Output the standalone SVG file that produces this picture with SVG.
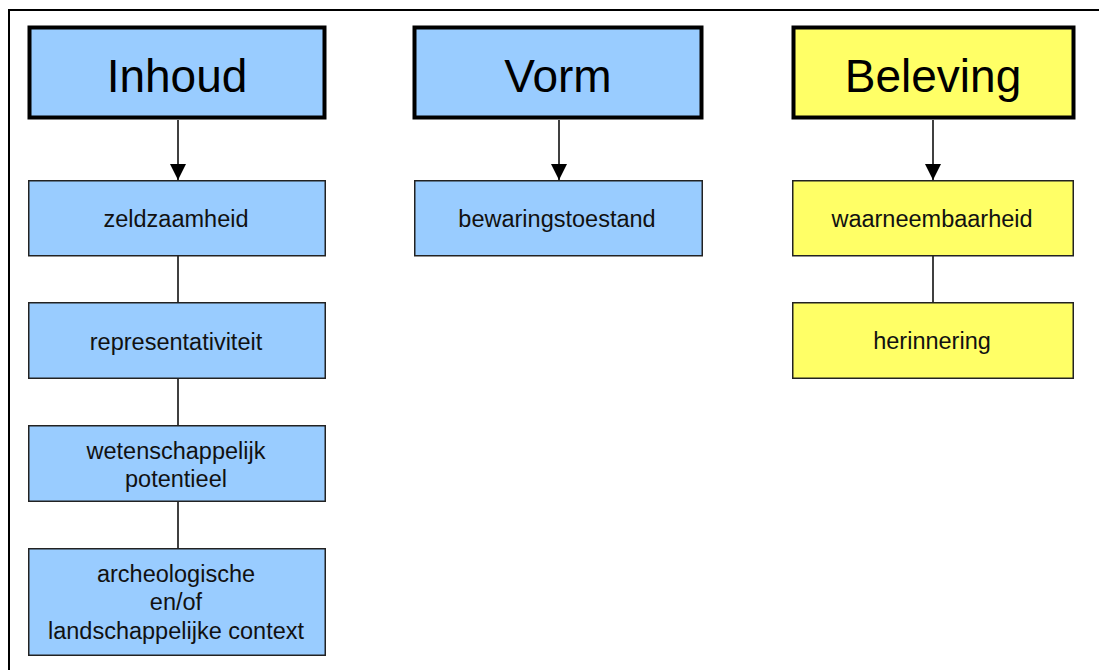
<svg xmlns="http://www.w3.org/2000/svg" width="1099" height="670" viewBox="0 0 1099 670">
<defs>
<style>
.hdr{stroke:#000;stroke-width:4}
.sub{stroke:#222;stroke-width:1.5}
.blue{fill:#99ccff}
.yel{fill:#ffff66}
.ht{font-family:"Liberation Sans",Arial,sans-serif;font-size:46px;fill:#000;text-anchor:middle}
.st{font-family:"Liberation Sans",Arial,sans-serif;font-size:23.5px;fill:#111;text-anchor:middle}
.ln{stroke:#000;stroke-width:1.5;fill:none}
</style>
<marker id="ah" markerWidth="16" markerHeight="17" refX="16" refY="8" orient="auto" markerUnits="userSpaceOnUse" viewBox="0 0 16 17">
<path d="M0,0 L16,8 L0,16 Z" fill="#000"/>
</marker>
</defs>
<rect width="1099" height="670" fill="#fff"/>
<path d="M9,670 L9,10 L1099,10" fill="none" stroke="#000" stroke-width="2"/>
<g id="connectors">
<line class="ln" x1="178" y1="120" x2="178" y2="180" marker-end="url(#ah)"/>
<line class="ln" x1="559" y1="120" x2="559" y2="180" marker-end="url(#ah)"/>
<line class="ln" x1="933" y1="120" x2="933" y2="180" marker-end="url(#ah)"/>
<line class="ln" x1="178" y1="256" x2="178" y2="302"/>
<line class="ln" x1="178" y1="379" x2="178" y2="425"/>
<line class="ln" x1="178" y1="502" x2="178" y2="548"/>
<line class="ln" x1="933" y1="256" x2="933" y2="302"/>
</g>
<g id="inhoud"><rect class="hdr blue" x="29.5" y="27.5" width="295" height="90"/><text class="ht" x="177" y="92">Inhoud</text></g>
<g id="vorm"><rect class="hdr blue" x="414.5" y="27.5" width="287" height="90"/><text class="ht" x="558" y="92">Vorm</text></g>
<g id="beleving"><rect class="hdr yel" x="793.5" y="27.5" width="280" height="90"/><text class="ht" x="933" y="92">Beleving</text></g>
<g id="zeldzaamheid"><rect class="sub blue" x="28.75" y="180.75" width="296.5" height="75"/><text class="st" x="176" y="227">zeldzaamheid</text></g>
<g id="representativiteit"><rect class="sub blue" x="28.75" y="302.75" width="296.5" height="75.5"/><text class="st" x="176" y="350">representativiteit</text></g>
<g id="wetenschappelijk"><rect class="sub blue" x="28.75" y="425.75" width="296.5" height="75.5"/><text class="st" x="176" y="459">wetenschappelijk</text><text class="st" x="176" y="487">potentieel</text></g>
<g id="archeologische"><rect class="sub blue" x="28.75" y="548.75" width="296.5" height="106.5"/><text class="st" x="176" y="582">archeologische</text><text class="st" x="176" y="610">en/of</text><text class="st" x="176" y="639">landschappelijke context</text></g>
<g id="bewaringstoestand"><rect class="sub blue" x="414.75" y="180.75" width="287.5" height="75"/><text class="st" x="557" y="227">bewaringstoestand</text></g>
<g id="waarneembaarheid"><rect class="sub yel" x="792.75" y="180.75" width="280.5" height="75"/><text class="st" x="932" y="227">waarneembaarheid</text></g>
<g id="herinnering"><rect class="sub yel" x="792.75" y="302.75" width="280.5" height="75.5"/><text class="st" x="932" y="349">herinnering</text></g>
</svg>
